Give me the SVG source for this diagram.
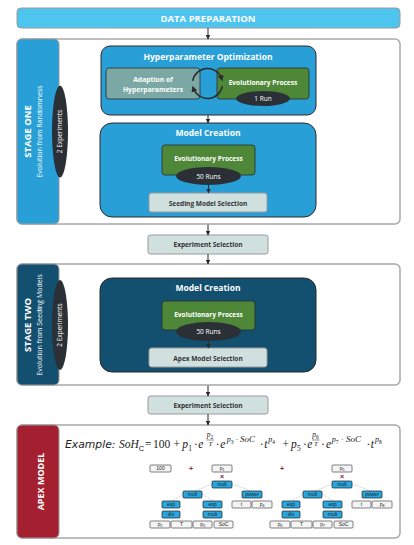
<svg xmlns="http://www.w3.org/2000/svg" width="414" height="545" viewBox="0 0 414 545">
<defs>
<marker id="ah" viewBox="0 0 10 10" refX="9" refY="5" markerWidth="5" markerHeight="5" markerUnits="userSpaceOnUse" orient="auto"><path d="M0,0 L10,5 L0,10 z" fill="#2b2b2b"/></marker>
<marker id="ahc" viewBox="0 0 10 10" refX="5" refY="5" markerWidth="6" markerHeight="6" markerUnits="userSpaceOnUse" orient="auto"><path d="M0,0 L10,5 L0,10 z" fill="#2b2b2b"/></marker>
</defs>
<style>
.f{font-family:"Open Sans","Liberation Sans",sans-serif;}
.wb{fill:#fff;font-weight:bold;text-anchor:middle;}
.wn{fill:#fff;text-anchor:middle;}
.db{fill:#333;font-weight:bold;text-anchor:middle;}
.outer{fill:#fff;stroke:#a8a8a8;stroke-width:1.5;}
.col{stroke:#9a9a9a;stroke-width:1;}
.blue{fill:#299fd7;stroke:#2b2b2b;stroke-width:1;}
.navy{fill:#134f6f;stroke:#2b2b2b;stroke-width:1;}
.green{fill:#4e8737;stroke:#2b2b2b;stroke-width:0.8;}
.sel{fill:#d0e0df;stroke:#9a9a9a;stroke-width:1;}
.ell{fill:#2b2f36;}
.conn line{stroke:#2b2b2b;stroke-width:1;marker-end:url(#ah);}
.tb{fill:#2aa6df;stroke:#1e1e1e;stroke-width:0.7;}
.tw{fill:#f4f4f4;stroke:#4a4a4a;stroke-width:0.7;}
.tt{font-family:"Liberation Sans",Arial,sans-serif;font-size:5px;fill:#1e1e1e;text-anchor:middle;}
.tl{stroke:#8a8a8a;stroke-width:0.5;stroke-dasharray:1,0.8;fill:none;}
.op{font-family:"Liberation Sans",Arial,sans-serif;font-size:7px;fill:#8b2232;text-anchor:middle;font-weight:bold;}
.m{font-family:"Liberation Serif","Times New Roman",serif;fill:#222;}
.i{font-style:italic;}
.s{font-size:8px;font-style:italic;}
.ss{font-size:5.5px;}
.sb{font-size:7.5px;}
</style>
<rect width="414" height="545" fill="#fff"/>

<g id="data-preparation">
<rect x="17" y="8" width="383" height="20" rx="4" fill="#4ec5ef" stroke="#9a9a9a" stroke-width="1"/>
<text x="208" y="21.5" class="f wb" font-size="9.5">DATA PREPARATION</text>
</g>

<g id="stage-one">
<rect x="17" y="39" width="383" height="185" rx="5" class="outer"/>
<rect x="17" y="39" width="42" height="185" rx="5" fill="#299fd7" class="col"/>
<text transform="translate(31,131.5) rotate(-90)" class="f wb" font-size="9.5">STAGE ONE</text>
<text transform="translate(42,131.5) rotate(-90)" class="f wn" font-size="7">Evolution from Randomness</text>
<ellipse cx="60" cy="131.5" rx="8" ry="46" class="ell"/>
<text transform="translate(62.3,131.5) rotate(-90)" class="f wn" font-size="6.5">2 Experiments</text>
</g>

<g id="hyperparameter-optimization">
<rect x="101" y="46" width="215" height="69" rx="9" class="blue"/>
<text x="208" y="60" class="f wb" font-size="8.5">Hyperparameter Optimization</text>
</g>
<g id="adaption-of-hyperparameters">
<rect x="106" y="68" width="94" height="31" rx="3" fill="#7ba8a4" stroke="#2b2b2b" stroke-width="0.8"/>
<text x="153" y="81.5" class="f wb" font-size="6.8">Adaption of</text>
<text x="153" y="91.5" class="f wb" font-size="6.8">Hyperparameters</text>
</g>
<g id="evolutionary-process-1">
<rect x="217" y="68" width="92" height="31" rx="3" class="green"/>
<text x="263" y="84.5" class="f wb" font-size="6.6">Evolutionary Process</text>
<ellipse cx="263" cy="98.5" rx="27" ry="7.5" class="ell"/>
<text x="263" y="100.8" class="f wn" font-size="6.5">1 Run</text>
</g>
<g id="cycle">
<path d="M192.7,80.9 A15,15 0 0 1 221.6,78.4" fill="none" stroke="#2b2b2b" stroke-width="1.5" marker-end="url(#ahc)"/>
<path d="M222.3,86.1 A15,15 0 0 1 193.4,88.6" fill="none" stroke="#2b2b2b" stroke-width="1.5" marker-end="url(#ahc)"/>
</g>

<g id="model-creation-1">
<rect x="100" y="123" width="216" height="94" rx="12" class="blue"/>
<text x="208" y="136" class="f wb" font-size="8.5">Model Creation</text>
</g>
<g id="evolutionary-process-2">
<rect x="162" y="145" width="93" height="30" rx="3" class="green"/>
<text x="208.5" y="161" class="f wb" font-size="6.6">Evolutionary Process</text>
<ellipse cx="208.5" cy="176" rx="32.5" ry="9" class="ell"/>
<text x="208.5" y="178.5" class="f wn" font-size="6.5">50 Runs</text>
</g>
<g id="seeding-model-selection">
<rect x="149" y="193" width="118" height="19" rx="2.5" class="sel"/>
<text x="208" y="205.5" class="f db" font-size="6.5">Seeding Model Selection</text>
</g>

<g id="experiment-selection-1">
<rect x="148" y="235" width="120" height="19" rx="2.5" class="sel"/>
<text x="208" y="247.3" class="f db" font-size="6.5">Experiment Selection</text>
</g>

<g id="stage-two">
<rect x="17" y="264" width="383" height="121" rx="5" class="outer"/>
<rect x="17" y="264" width="42" height="121" rx="5" fill="#134f6f" class="col"/>
<text transform="translate(31,325) rotate(-90)" class="f wb" font-size="9.5">STAGE TWO</text>
<text transform="translate(42,325) rotate(-90)" class="f wn" font-size="7">Evolution from Seeding Models</text>
<ellipse cx="60" cy="325" rx="8" ry="45" class="ell"/>
<text transform="translate(62.3,325) rotate(-90)" class="f wn" font-size="6.5">2 Experiments</text>
</g>
<g id="model-creation-2">
<rect x="100" y="278" width="216" height="94" rx="12" class="navy"/>
<text x="208" y="291" class="f wb" font-size="8.5">Model Creation</text>
</g>
<g id="evolutionary-process-3">
<rect x="162" y="301" width="93" height="29" rx="3" class="green"/>
<text x="208.5" y="316.5" class="f wb" font-size="6.6">Evolutionary Process</text>
<ellipse cx="208.5" cy="331.5" rx="32.5" ry="9.5" class="ell"/>
<text x="208.5" y="334" class="f wn" font-size="6.5">50 Runs</text>
</g>
<g id="apex-model-selection">
<rect x="149" y="348" width="118" height="19" rx="2.5" class="sel"/>
<text x="208" y="360.5" class="f db" font-size="6.5">Apex Model Selection</text>
</g>

<g id="experiment-selection-2">
<rect x="148" y="396" width="120" height="18" rx="2.5" class="sel"/>
<text x="208" y="407.7" class="f db" font-size="6.5">Experiment Selection</text>
</g>

<g id="apex-model">
<rect x="17" y="425" width="383" height="113" rx="5" class="outer"/>
<rect x="17" y="425" width="42" height="113" rx="5" fill="#a41f2f" class="col"/>
<text transform="translate(43.5,481.5) rotate(-90)" class="f wb" font-size="9">APEX MODEL</text>
</g>

<g id="formula">
<text x="65" y="448" font-family="DejaVu Sans, Liberation Sans, sans-serif" font-style="italic" font-size="10.8" fill="#222">Example:</text>
<text class="m" font-size="11.5">
<tspan x="119" y="448" class="i">SoH</tspan>
<tspan x="138.8" y="450.5" font-size="7.5" font-family="Liberation Sans, sans-serif">C</tspan>
<tspan x="145" y="448">=</tspan>
<tspan x="153" y="448">100</tspan>
<tspan x="173.5" y="448">+</tspan>
<tspan x="182.3" y="448" class="i">p</tspan>
<tspan x="188.2" y="450.8" class="sb">1</tspan>
<tspan x="194" y="448">·</tspan>
<tspan x="198.3" y="448" class="i">e</tspan>
<tspan x="206.8" y="437" font-size="7.5" class="i">p</tspan>
<tspan x="210.6" y="438.5" class="ss">2</tspan>
<tspan x="208.5" y="446.3" font-size="7" class="i">T</tspan>
<tspan x="215.8" y="448">·</tspan>
<tspan x="220.3" y="448" class="i">e</tspan>
<tspan x="226.7" y="442" class="s">p</tspan>
<tspan x="230.7" y="443.8" class="ss">3</tspan>
<tspan x="235.5" y="442" font-size="8">·</tspan>
<tspan x="240" y="442" font-size="9" class="i">SoC</tspan>
<tspan x="259.7" y="448">·</tspan>
<tspan x="264.3" y="448" class="i">t</tspan>
<tspan x="268.3" y="442" class="s">p</tspan>
<tspan x="272.3" y="443.8" class="ss">4</tspan>
<tspan x="282.5" y="448">+</tspan>
<tspan x="291" y="448" class="i">p</tspan>
<tspan x="296.9" y="450.8" class="sb">5</tspan>
<tspan x="303" y="448">·</tspan>
<tspan x="307.3" y="448" class="i">e</tspan>
<tspan x="312.3" y="437" font-size="7.5" class="i">p</tspan>
<tspan x="316.1" y="438.5" class="ss">6</tspan>
<tspan x="314" y="446.3" font-size="7" class="i">T</tspan>
<tspan x="321" y="448">·</tspan>
<tspan x="326" y="448" class="i">e</tspan>
<tspan x="331.7" y="442" class="s">p</tspan>
<tspan x="335.7" y="443.8" class="ss">7</tspan>
<tspan x="341" y="442" font-size="8">·</tspan>
<tspan x="346" y="442" font-size="9" class="i">SoC</tspan>
<tspan x="366.4" y="448">·</tspan>
<tspan x="370.7" y="448" class="i">t</tspan>
<tspan x="375" y="442" class="s">p</tspan>
<tspan x="379" y="443.8" class="ss">8</tspan>
</text>
<line x1="206.5" y1="440" x2="214" y2="440" stroke="#222" stroke-width="0.5"/>
<line x1="312" y1="440" x2="319.5" y2="440" stroke="#222" stroke-width="0.5"/>
</g>

<g id="tree-lines">
<line class="tl" x1="212" y1="484" x2="195" y2="491"/>
<line class="tl" x1="232" y1="484" x2="251" y2="491"/>
<line class="tl" x1="183" y1="494" x2="172" y2="501"/>
<line class="tl" x1="202" y1="494" x2="213" y2="501"/>
<line class="tl" x1="332" y1="484" x2="315" y2="491"/>
<line class="tl" x1="352" y1="484" x2="371" y2="491"/>
<line class="tl" x1="303" y1="494" x2="292" y2="501"/>
<line class="tl" x1="322" y1="494" x2="333" y2="501"/>
</g>

<g id="tree-1">
<g id="t1-100"><rect x="150" y="465" width="21" height="7" rx="1" class="tw"/><text x="160.5" y="470.3" class="tt">100</text></g>
<text x="191" y="471" class="op">+</text>
<g id="t1-p1"><rect x="212" y="465" width="20" height="7" rx="1" class="tw"/><text x="222" y="470.3" class="tt">p<tspan font-size="3.5" dy="0.8">1</tspan></text></g>
<text x="222" y="479" class="op" font-size="6">×</text>
<g id="t1-mult"><rect x="212" y="481" width="20" height="7" rx="1" class="tb"/><text x="222" y="486.3" class="tt">mult</text></g>
<g id="t1-mult2"><rect x="183" y="491" width="19" height="7" rx="1" class="tb"/><text x="192.5" y="496.3" class="tt">mult</text></g>
<g id="t1-power"><rect x="242" y="491" width="20" height="7" rx="1" class="tb"/><text x="252" y="496.3" class="tt">power</text></g>
<g id="t1-exp1"><rect x="162" y="501" width="18" height="7" rx="1" class="tb"/><text x="171" y="506.3" class="tt">exp</text></g>
<g id="t1-exp2"><rect x="203" y="501" width="19" height="7" rx="1" class="tb"/><text x="212.5" y="506.3" class="tt">exp</text></g>
<g id="t1-t"><rect x="232" y="501" width="19" height="7" rx="1" class="tw"/><text x="241.5" y="506.3" class="tt">t</text></g>
<g id="t1-p4"><rect x="252" y="501" width="20" height="7" rx="1" class="tw"/><text x="262" y="506.3" class="tt">p<tspan font-size="3.5" dy="0.8">4</tspan></text></g>
<g id="t1-div"><rect x="162" y="511" width="18" height="7" rx="1" class="tb"/><text x="171" y="516.3" class="tt">div</text></g>
<g id="t1-mult3"><rect x="203" y="511" width="19" height="7" rx="1" class="tb"/><text x="212.5" y="516.3" class="tt">mult</text></g>
<g id="t1-p2"><rect x="150" y="521" width="20" height="7" rx="1" class="tw"/><text x="160" y="526.3" class="tt">p<tspan font-size="3.5" dy="0.8">2</tspan></text></g>
<g id="t1-T"><rect x="171" y="521" width="21" height="7" rx="1" class="tw"/><text x="181.5" y="526.3" class="tt">T</text></g>
<g id="t1-p3"><rect x="193" y="521" width="19" height="7" rx="1" class="tw"/><text x="202.5" y="526.3" class="tt">p<tspan font-size="3.5" dy="0.8">3</tspan></text></g>
<g id="t1-soc"><rect x="214" y="521" width="19" height="7" rx="1" class="tw"/><text x="223.5" y="526.3" class="tt">SoC</text></g>
</g>

<g id="tree-2">
<text x="282" y="471" class="op">+</text>
<g id="t2-p5"><rect x="332" y="465" width="20" height="7" rx="1" class="tw"/><text x="342" y="470.3" class="tt">p<tspan font-size="3.5" dy="0.8">5</tspan></text></g>
<text x="342" y="479" class="op" font-size="6">×</text>
<g id="t2-mult"><rect x="332" y="481" width="20" height="7" rx="1" class="tb"/><text x="342" y="486.3" class="tt">mult</text></g>
<g id="t2-mult2"><rect x="303" y="491" width="19" height="7" rx="1" class="tb"/><text x="312.5" y="496.3" class="tt">mult</text></g>
<g id="t2-power"><rect x="362" y="491" width="20" height="7" rx="1" class="tb"/><text x="372" y="496.3" class="tt">power</text></g>
<g id="t2-exp1"><rect x="282" y="501" width="18" height="7" rx="1" class="tb"/><text x="291" y="506.3" class="tt">exp</text></g>
<g id="t2-exp2"><rect x="323" y="501" width="19" height="7" rx="1" class="tb"/><text x="332.5" y="506.3" class="tt">exp</text></g>
<g id="t2-t"><rect x="352" y="501" width="19" height="7" rx="1" class="tw"/><text x="361.5" y="506.3" class="tt">t</text></g>
<g id="t2-p8"><rect x="372" y="501" width="20" height="7" rx="1" class="tw"/><text x="382" y="506.3" class="tt">p<tspan font-size="3.5" dy="0.8">8</tspan></text></g>
<g id="t2-div"><rect x="282" y="511" width="18" height="7" rx="1" class="tb"/><text x="291" y="516.3" class="tt">div</text></g>
<g id="t2-mult3"><rect x="323" y="511" width="19" height="7" rx="1" class="tb"/><text x="332.5" y="516.3" class="tt">mult</text></g>
<g id="t2-p6"><rect x="270" y="521" width="20" height="7" rx="1" class="tw"/><text x="280" y="526.3" class="tt">p<tspan font-size="3.5" dy="0.8">6</tspan></text></g>
<g id="t2-T"><rect x="291" y="521" width="21" height="7" rx="1" class="tw"/><text x="301.5" y="526.3" class="tt">T</text></g>
<g id="t2-p7"><rect x="313" y="521" width="19" height="7" rx="1" class="tw"/><text x="322.5" y="526.3" class="tt">p<tspan font-size="3.5" dy="0.8">7</tspan></text></g>
<g id="t2-soc"><rect x="334" y="521" width="19" height="7" rx="1" class="tw"/><text x="343.5" y="526.3" class="tt">SoC</text></g>
</g>

<g id="connectors" class="conn">
<line x1="208" y1="28" x2="208" y2="39"/>
<line x1="208" y1="115" x2="208" y2="123"/>
<line x1="208.5" y1="185" x2="208.5" y2="193"/>
<line x1="208" y1="224.5" x2="208" y2="235"/>
<line x1="208" y1="254" x2="208" y2="264"/>
<line x1="208.5" y1="341" x2="208.5" y2="348"/>
<line x1="208" y1="385.5" x2="208" y2="396"/>
<line x1="208" y1="414" x2="208" y2="425"/>
</g>
</svg>
